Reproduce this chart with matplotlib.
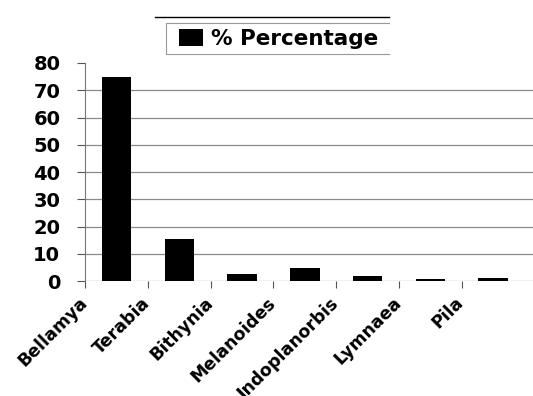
import matplotlib
matplotlib.use("Agg")
import matplotlib.pyplot as plt
import matplotlib.transforms as mtransforms
from matplotlib.lines import Line2D
import numpy as np

plt.rcParams['font.family'] = ['DejaVu Sans']

# snail genera and their share of the sample (%)
genera = ['Bellamya', 'Terabia', 'Bithynia', 'Melanoides', 'Indoplanorbis',
          'Lymnaea', 'Pila']
percentage = [75.0, 15.6, 2.8, 4.9, 1.8, 0.8, 1.2]
yticks = [0, 10, 20, 30, 40, 50, 60, 70, 80]

fig = plt.figure(figsize=(5.33, 3.96), dpi=100)
ax = fig.add_axes([0.160, 0.290, 0.845, 0.551])

x = np.arange(len(genera))
bars = ax.bar(x, percentage, width=0.47, color='black', zorder=3,
              label='% Percentage')

ax.set_xlim(-0.5, 6.68)
ax.set_ylim(0, 80)
ax.set_yticks(yticks)
ax.set_yticklabels([str(v) for v in yticks], fontsize=14, fontweight='bold')
for v in yticks[:-1]:
    ax.axhline(v, color='#8a8a8a', lw=0.9, zorder=1)

# category boundaries carry the tick marks and the labels
ax.set_xticks(x - 0.5)
ax.set_xticklabels(genera, rotation=45, ha='right', rotation_mode='anchor',
                   fontsize=12.5, fontweight='bold')
ax.tick_params(axis='x', length=5, width=0.8, color='#555555', pad=4)
ax.tick_params(axis='y', length=6, width=0.8, color='#555555', pad=12)
shift = mtransforms.ScaledTranslation(-5 / 72, 0, fig.dpi_scale_trans)
for lab in ax.get_xticklabels():
    lab.set_transform(lab.get_transform() + shift)

for s in ['top', 'right', 'bottom']:
    ax.spines[s].set_visible(False)
ax.spines['left'].set_color('#777777')
ax.spines['left'].set_linewidth(0.8)

# legend box with its rule line above
W, H = 533, 396
def fx(px):
    return px / W
def fy(py):
    return 1 - py / H

fig.add_artist(Line2D([fx(155), fx(389)], [fy(17), fy(17)], color='black', lw=1.0))
fig.add_artist(Line2D([fx(389), fx(166), fx(166), fx(389)],
                      [fy(23), fy(23), fy(54), fy(54)], color='#999999', lw=0.8))
fig.legend(handles=[bars], labels=['% Percentage'], loc='center left',
           bbox_to_anchor=(fx(164), fy(39)), frameon=False,
           prop={'size': 15.5, 'weight': 'bold'}, handlelength=1.1,
           handleheight=0.8, handletextpad=0.4, borderpad=0.2)

fig.savefig('out.png', dpi=100)
